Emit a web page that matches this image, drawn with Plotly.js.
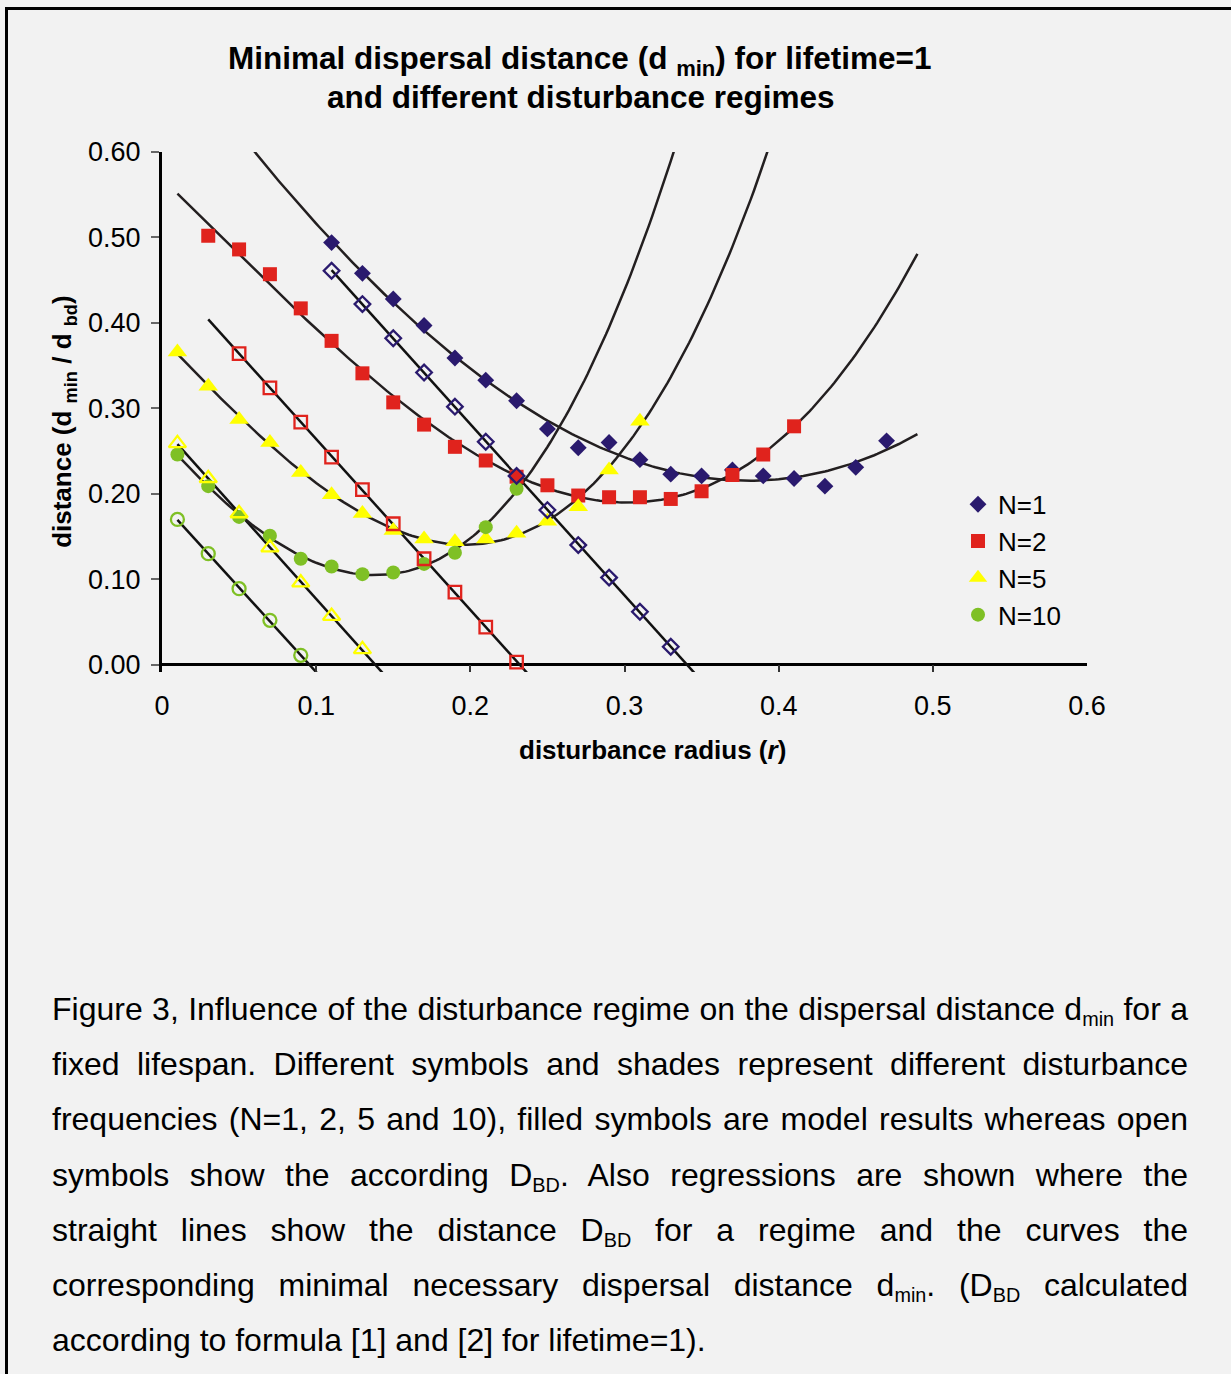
<!DOCTYPE html>
<html>
<head>
<meta charset="utf-8">
<script src="https://cdn.plot.ly/plotly-3.0.1.min.js"></script>
<style>
  html, body { margin:0; padding:0; background:#f2f2f2; }
  body { width:1231px; height:1374px; position:relative; overflow:hidden; font-family:"Liberation Sans", Arial, sans-serif; }
  #chart { position:absolute; left:0; top:0; width:1231px; height:800px; }
  #frame { position:absolute; left:5px; top:7px; right:0; bottom:0; border-top:3px solid #000; border-left:3px solid #000; pointer-events:none; }
  #caption { position:absolute; left:52px; top:982px; width:1136px; font-size:32px; color:#000; }
  #caption .ln { height:55.2px; line-height:55.2px; text-align:justify; text-align-last:justify; white-space:nowrap; overflow:visible; }
  #caption .ln.last { text-align:left; text-align-last:left; }
  #caption sub { font-size:0.62em; vertical-align:-0.3em; }
</style>
</head>
<body>
<div id="chart"></div>
<div id="caption">
  <div class="ln">Figure 3, Influence of the disturbance regime on the dispersal distance d<sub>min</sub> for a</div>
  <div class="ln">fixed lifespan. Different symbols and shades represent different disturbance</div>
  <div class="ln">frequencies (N=1, 2, 5 and 10), filled symbols are model results whereas open</div>
  <div class="ln">symbols show the according D<sub>BD</sub>. Also regressions are shown where the</div>
  <div class="ln">straight lines show the distance D<sub>BD</sub> for a regime and the curves the</div>
  <div class="ln">corresponding minimal necessary dispersal distance d<sub>min</sub>. (D<sub>BD</sub> calculated</div>
  <div class="ln last">according to formula [1] and [2] for lifetime=1).</div>
</div>
<div id="frame"></div>
<script>
// ---------------- data ----------------
const seriesNames = ["N=1", "N=2", "N=5", "N=10"];

// filled symbols: model results d_min
const xN1 = [0.11,0.13,0.15,0.17,0.19,0.21,0.23,0.25,0.27,0.29,0.31,0.33,0.35,0.37,0.39,0.41,0.43,0.45,0.47];
const yN1 = [0.494,0.458,0.428,0.397,0.359,0.333,0.309,0.276,0.254,0.260,0.240,0.223,0.221,0.228,0.221,0.218,0.209,0.231,0.262];
const xN2 = [0.03,0.05,0.07,0.09,0.11,0.13,0.15,0.17,0.19,0.21,0.23,0.25,0.27,0.29,0.31,0.33,0.35,0.37,0.39,0.41];
const yN2 = [0.502,0.486,0.457,0.417,0.379,0.341,0.307,0.281,0.255,0.239,0.220,0.210,0.198,0.196,0.196,0.194,0.203,0.222,0.246,0.279];
const xN5 = [0.01,0.03,0.05,0.07,0.09,0.11,0.13,0.15,0.17,0.19,0.21,0.23,0.25,0.27,0.29,0.31];
const yN5 = [0.366,0.326,0.287,0.260,0.225,0.199,0.177,0.157,0.147,0.144,0.147,0.154,0.168,0.185,0.228,0.285];
const xN10 = [0.01,0.03,0.05,0.07,0.09,0.11,0.13,0.15,0.17,0.19,0.21,0.23];
const yN10 = [0.246,0.209,0.173,0.151,0.124,0.115,0.106,0.108,0.118,0.131,0.161,0.206];

// open symbols: D_BD
const xB1 = [0.11,0.13,0.15,0.17,0.19,0.21,0.23,0.25,0.27,0.29,0.31,0.33];
const yB1 = [0.461,0.422,0.382,0.342,0.302,0.261,0.221,0.181,0.140,0.102,0.062,0.021];
const xB2 = [0.05,0.07,0.09,0.11,0.13,0.15,0.17,0.19,0.21,0.23];
const yB2 = [0.364,0.324,0.284,0.243,0.205,0.165,0.124,0.085,0.044,0.003];
const xB5 = [0.01,0.03,0.05,0.07,0.09,0.11,0.13];
const yB5 = [0.259,0.218,0.177,0.137,0.096,0.057,0.018];
const xB10 = [0.01,0.03,0.05,0.07,0.09];
const yB10 = [0.170,0.130,0.089,0.052,0.011];

// regression settings (Excel-style trendlines with forecast)
const curveOrder = [3, 3, 3, 3];
const curveFrom = [0.05, 0.01, 0.01, 0.01];
const curveTo   = [0.49, 0.49, 0.49, 0.49];
const lineFrom  = [0.11, 0.03, 0.01, 0.01];
const lineTo    = [0.38, 0.27, 0.18, 0.13];

const xTicks = [0, 0.1, 0.2, 0.3, 0.4, 0.5, 0.6];
const yTicks = [0, 0.1, 0.2, 0.3, 0.4, 0.5, 0.6];

// ---------------- styles ----------------
const colors = ["#2a1a6e", "#e0231d", "#ffff00", "#7fc025"];
const filledSym = ["diamond", "square", "triangle-up", "circle"];
const filledSize = [13, 14, 17, 14];
const openSym = ["diamond-open", "square-open", "triangle-up-open", "circle-open"];
const openSize = [12, 12.5, 15, 13];
const FONT = '"Liberation Sans", Arial, sans-serif';

// ---------------- regression helpers ----------------
function polyfit(xs, ys, deg) {
  const n = xs.length;
  const mx = xs.reduce((a,b)=>a+b,0)/n;
  const sx = Math.sqrt(xs.reduce((a,b)=>a+(b-mx)*(b-mx),0)/n) || 1;
  const m = deg + 1;
  const A = Array.from({length:m}, ()=>new Array(m+1).fill(0));
  for (let k=0;k<n;k++){
    const t=(xs[k]-mx)/sx;
    for (let i=0;i<m;i++){
      for (let j=0;j<m;j++) A[i][j]+=Math.pow(t,i+j);
      A[i][m]+=ys[k]*Math.pow(t,i);
    }
  }
  for (let i=0;i<m;i++){
    let p=i;
    for (let r=i+1;r<m;r++) if (Math.abs(A[r][i])>Math.abs(A[p][i])) p=r;
    [A[i],A[p]]=[A[p],A[i]];
    for (let r=0;r<m;r++){
      if (r===i) continue;
      const f=A[r][i]/A[i][i];
      for (let c=i;c<=m;c++) A[r][c]-=f*A[i][c];
    }
  }
  const c = A.map((row,i)=>row[m]/row[i]);
  return x => { const t=(x-mx)/sx; let s=0; for (let i=m-1;i>=0;i--) s=s*t+c[i]; return s; };
}
function sampleRange(a, b, step){ const out=[]; for (let x=a; x<=b+1e-9; x+=step) out.push(+x.toFixed(5)); return out; }

const filled = [[xN1,yN1],[xN2,yN2],[xN5,yN5],[xN10,yN10]];
const open   = [[xB1,yB1],[xB2,yB2],[xB5,yB5],[xB10,yB10]];

const traces = [];
// trendlines first (below markers)
for (let i=0;i<4;i++){
  const f = polyfit(filled[i][0], filled[i][1], curveOrder[i]);
  const xs = sampleRange(curveFrom[i], curveTo[i], 0.002);
  traces.push({x:xs, y:xs.map(f), mode:'lines', line:{color:'#231f20', width:2.5}, showlegend:false, hoverinfo:'skip'});
  const g = polyfit(open[i][0], open[i][1], 1);
  const xl = [lineFrom[i], lineTo[i]];
  traces.push({x:xl, y:xl.map(g), mode:'lines', line:{color:'#111', width:2.5}, showlegend:false, hoverinfo:'skip'});
}
for (let i=0;i<4;i++){
  traces.push({x:filled[i][0], y:filled[i][1], mode:'markers', name:seriesNames[i],
    marker:{symbol:filledSym[i], size:filledSize[i], color:colors[i], line:{width:0}}});
}
for (let i=0;i<4;i++){
  traces.push({x:open[i][0], y:open[i][1], mode:'markers', name:seriesNames[i]+' D_BD', showlegend:false,
    marker:{symbol:openSym[i], size:openSize[i], color:colors[i], line:{width:2.3, color:colors[i]}}});
}

// plot area: x 162..1087 px, y: 0.60 at 152 px, 0.00 at 665 px
const L=162, R=1087, T=152, Y0=665;
const pxPerY = (Y0-T)/0.6;
const yMin = -0.0085;
const B = Y0 + (-yMin)*pxPerY;
const H = 800;
const px2py = py => (B-py)/(B-T);
const px2px = px => (px-L)/(R-L);

const layout = {
  width:1231, height:H, autosize:false,
  margin:{l:L, r:1231-R, t:T, b:H-B, pad:0},
  paper_bgcolor:'rgba(0,0,0,0)', plot_bgcolor:'rgba(0,0,0,0)',
  font:{family:FONT, color:'#000'},
  xaxis:{range:[0,0.6], tickmode:'array', tickvals:xTicks, ticktext:xTicks.map(v=>String(v)),
    ticks:'inside', ticklen:7, tickwidth:2, tickcolor:'#333',
    showline:false, zeroline:false, showgrid:false,
    tickfont:{size:27, family:FONT, color:'#000'}, ticklabelstandoff:15},
  yaxis:{range:[yMin,0.6], tickmode:'array', tickvals:yTicks, ticktext:yTicks.map(v=>v.toFixed(2)),
    ticks:'outside', ticklen:8, tickwidth:2, tickcolor:'#666',
    showline:true, linecolor:'#000', linewidth:3,
    zeroline:true, zerolinecolor:'#000', zerolinewidth:3, showgrid:false,
    tickfont:{size:27, family:FONT, color:'#000'}, ticklabelstandoff:5},
  showlegend:true,
  legend:{x:px2px(958), xanchor:'left', y:px2py(481), yanchor:'top',
    font:{size:26, family:FONT, color:'#000'}, bgcolor:'rgba(0,0,0,0)', borderwidth:0},
  annotations:[
    {text:'<b>Minimal dispersal distance (d <sub>min</sub>) for lifetime=1</b>', xref:'paper', yref:'paper',
      x:px2px(580), y:px2py(60), xanchor:'center', yanchor:'middle', showarrow:false, font:{size:31.5, family:FONT, color:'#000'}},
    {text:'<b>and different disturbance regimes</b>', xref:'paper', yref:'paper',
      x:px2px(581), y:px2py(97), xanchor:'center', yanchor:'middle', showarrow:false, font:{size:31.5, family:FONT, color:'#000'}},
    {text:'<b>distance (d <sub>min</sub> / d <sub>bd</sub>)</b>', xref:'paper', yref:'paper', textangle:-90,
      x:px2px(64), y:px2py(422), xanchor:'center', yanchor:'middle', showarrow:false, font:{size:26, family:FONT, color:'#000'}},
    {text:'<b>disturbance radius (<i>r</i>)</b>', xref:'paper', yref:'paper',
      x:px2px(652), y:px2py(750), xanchor:'center', yanchor:'middle', showarrow:false, font:{size:26, family:FONT, color:'#000'}}
  ]
};

Plotly.newPlot('chart', traces, layout, {displayModeBar:false, staticPlot:true});
</script>
</body>
</html>
